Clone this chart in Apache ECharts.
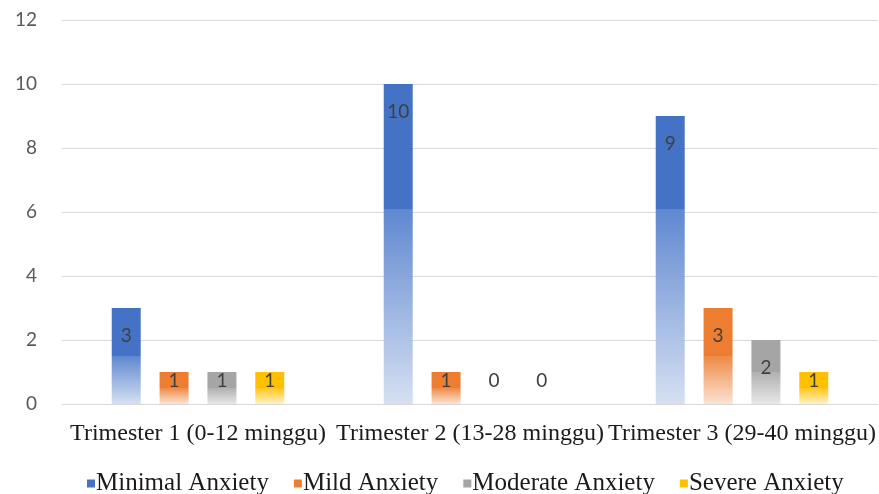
<!DOCTYPE html>
<html>
<head>
<meta charset="utf-8">
<script src="https://cdn.jsdelivr.net/npm/echarts@6/dist/echarts.min.js"></script>
<style>
  html, body { margin: 0; padding: 0; background: #ffffff; }
  #chart { width: 879px; height: 494px; }
</style>
</head>
<body>
<div id="chart"></div>
<script>
// Anxiety level counts per pregnancy trimester
const categories = ['Trimester 1 (0-12 minggu)', 'Trimester 2 (13-28 minggu)', 'Trimester 3 (29-40 minggu)'];
const seriesNames = ['Minimal Anxiety', 'Mild Anxiety', 'Moderate Anxiety', 'Severe Anxiety'];
const minimalAnxiety = [3, 10, 9];
const mildAnxiety = [1, 1, 3];
const moderateAnxiety = [1, 0, 2];
const severeAnxiety = [1, 0, 1];
const yTicks = [0, 2, 4, 6, 8, 10, 12];

const colors = ['#4472C4', '#ED7D31', '#A5A5A5', '#FFC000'];
const fadeColors = ['#d6e0f2', '#fbe3d4', '#e8e8e8', '#fff2c8'];
const midColors = ['#5f88d0', '#ef8a45', '#b0b0b0', '#ffc61a'];
const valueSets = [minimalAnxiety, mildAnxiety, moderateAnxiety, severeAnxiety];

// Solid upper part, fading toward the base; tall bars turn lighter below ~6 units
function fill(i, v) {
  let solid = 0.5;
  if (v > 6.1) solid = (v - 6.1) / v;
  return new echarts.graphic.LinearGradient(0, 0, 0, 1, [
    { offset: 0, color: colors[i] },
    { offset: solid, color: colors[i] },
    { offset: solid + 0.001, color: midColors[i] },
    { offset: 1, color: fadeColors[i] }
  ]);
}

// Short bars carry their label near the base; taller bars inside the top end
function labelFor(v) {
  if (v <= 1) {
    return { position: 'insideBottom', distance: 14 };
  }
  return { position: 'insideTop', distance: 18 };
}

const series = seriesNames.map((name, i) => ({
  name: name,
  type: 'bar',
  barWidth: 29,
  barGap: '65%',
  barCategoryGap: '36%',
  itemStyle: { color: colors[i] },
  label: {
    show: true,
    color: '#404040',
    fontFamily: 'Lato, "Liberation Sans", sans-serif',
    fontSize: 19
  },
  data: valueSets[i].map(v => ({
    value: v,
    label: labelFor(v),
    itemStyle: { color: fill(i, v) }
  }))
}));

const chart = echarts.init(document.getElementById('chart'), null, { renderer: 'canvas' });
chart.setOption({
  animation: false,
  backgroundColor: '#ffffff',
  grid: { left: 62, right: 1, top: 20, bottom: 90, containLabel: false },
  legend: {
    data: seriesNames.map((n, i) => ({ name: n, itemStyle: { color: colors[i] } })),
    top: 466,
    left: 82,
    icon: 'rect',
    itemWidth: 8,
    itemHeight: 8,
    itemGap: 25,
    textStyle: {
      fontFamily: '"Liberation Serif", "Times New Roman", serif',
      fontSize: 25,
      color: '#1a1a1a',
      padding: [0, 0, 0, -4]
    }
  },
  xAxis: {
    type: 'category',
    data: categories,
    axisLine: { lineStyle: { color: '#d9d9d9', width: 1 } },
    axisTick: { show: false },
    axisLabel: {
      interval: 0,
      margin: 18,
      fontFamily: '"Liberation Serif", "Times New Roman", serif',
      fontSize: 24,
      color: '#1a1a1a'
    }
  },
  yAxis: {
    type: 'value',
    min: yTicks[0],
    max: yTicks[yTicks.length - 1],
    interval: yTicks[1] - yTicks[0],
    axisLine: { show: false },
    axisTick: { show: false },
    axisLabel: {
      margin: 25,
      fontFamily: 'Lato, "Liberation Sans", sans-serif',
      fontSize: 19,
      color: '#595959'
    },
    splitLine: { lineStyle: { color: '#d9d9d9', width: 1 } }
  },
  series: series
});
</script>
</body>
</html>
